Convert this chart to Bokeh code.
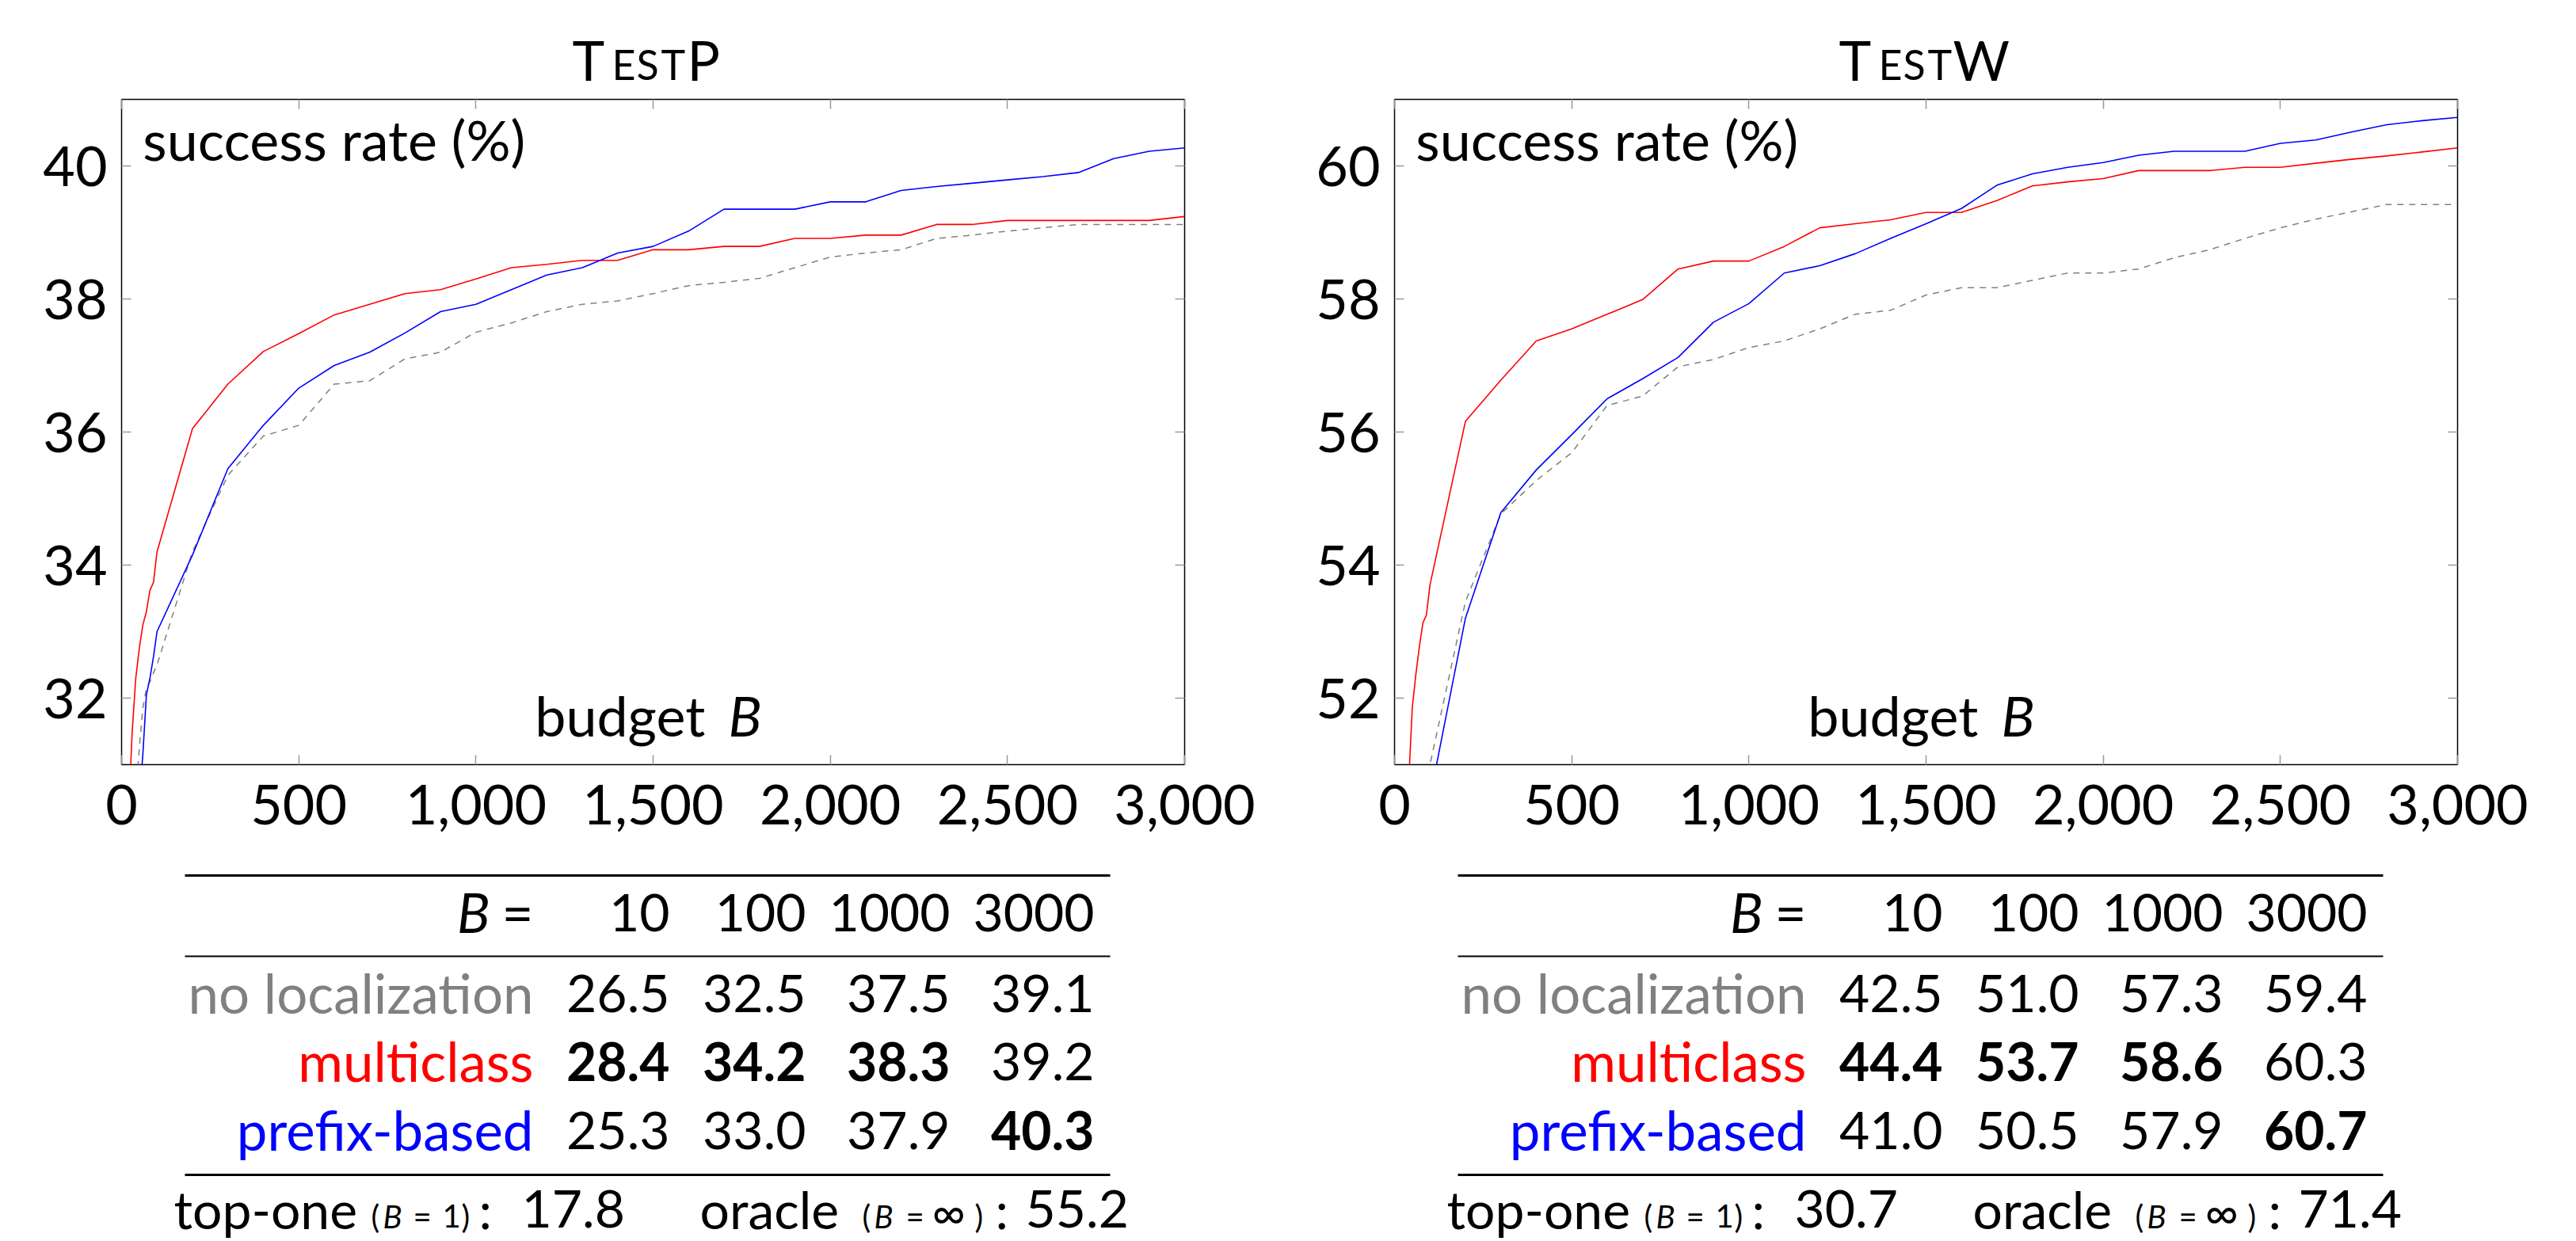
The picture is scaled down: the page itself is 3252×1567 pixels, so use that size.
import numpy as np
from bokeh.plotting import figure
from bokeh.models import Range1d, FixedTicker, NumeralTickFormatter, LinearAxis, Label
from bokeh.layouts import row, column
from bokeh.core.properties import value
from bokeh.embed import file_html
from bokeh.resources import INLINE

# ---------------- data ----------------
budget = [10, 20, 30, 40, 50, 60, 70, 80, 90, 100,
          200, 300, 400, 500, 600, 700, 800, 900, 1000,
          1100, 1200, 1300, 1400, 1500, 1600, 1700, 1800, 1900, 2000,
          2100, 2200, 2300, 2400, 2500, 2600, 2700, 2800, 2900, 3000]

x_ticks = [0, 500, 1000, 1500, 2000, 2500, 3000]

# TestP
p_noloc = [26.5, 28.5, 29.7, 30.5, 31.25, 31.85, 32.15, 32.25, 32.38, 32.5,
           34.2, 35.35, 35.94, 36.1, 36.72, 36.77, 37.1, 37.2, 37.5,
           37.64, 37.81, 37.92, 37.97, 38.08, 38.2, 38.25, 38.31, 38.47, 38.63,
           38.69, 38.74, 38.91, 38.96, 39.02, 39.07, 39.12, 39.12, 39.12, 39.12]
p_multi = [28.4, 30.3, 31.5, 32.3, 32.75, 33.1, 33.3, 33.62, 33.74, 34.2,
           36.05, 36.72, 37.21, 37.48, 37.76, 37.92, 38.08, 38.14, 38.3,
           38.47, 38.52, 38.58, 38.58, 38.74, 38.74, 38.79, 38.79, 38.91, 38.91,
           38.96, 38.96, 39.12, 39.12, 39.18, 39.18, 39.18, 39.18, 39.18, 39.24]
p_prefix = [25.3, 27.4, 28.7, 29.7, 30.5, 31.15, 32.05, 32.3, 32.62, 33.0,
            34.15, 35.45, 36.1, 36.66, 37.0, 37.2, 37.49, 37.81, 37.92,
            38.14, 38.36, 38.47, 38.69, 38.79, 39.02, 39.35, 39.35, 39.35, 39.46,
            39.46, 39.63, 39.69, 39.74, 39.79, 39.84, 39.9, 40.11, 40.22, 40.27]
p_yticks = [32, 34, 36, 38, 40]

# TestW
w_noloc = [42.5, 45.5, 47.3, 48.4, 49.2, 49.8, 50.2, 50.55, 50.8, 51.0,
           53.45, 54.77, 55.27, 55.69, 56.4, 56.54, 56.98, 57.09, 57.27,
           57.37, 57.55, 57.77, 57.83, 58.06, 58.17, 58.17, 58.28, 58.39, 58.39,
           58.45, 58.62, 58.74, 58.91, 59.07, 59.2, 59.31, 59.42, 59.42, 59.42]
w_multi = [44.4, 47.6, 49.7, 50.75, 51.85, 52.35, 52.77, 53.13, 53.25, 53.7,
           56.16, 56.78, 57.37, 57.55, 57.77, 57.99, 58.45, 58.57, 58.57,
           58.79, 59.07, 59.13, 59.19, 59.3, 59.3, 59.48, 59.7, 59.76, 59.81,
           59.93, 59.93, 59.93, 59.98, 59.98, 60.04, 60.1, 60.15, 60.21, 60.27]
w_prefix = [41.0, 44.0, 45.8, 47.0, 48.0, 48.7, 49.3, 49.8, 50.2, 50.5,
            53.2, 54.79, 55.43, 55.96, 56.5, 56.8, 57.12, 57.65, 57.93,
            58.39, 58.5, 58.68, 58.91, 59.13, 59.36, 59.71, 59.88, 59.98, 60.05,
            60.16, 60.22, 60.22, 60.22, 60.34, 60.39, 60.51, 60.62, 60.68, 60.73]
w_yticks = [52, 54, 56, 58, 60]

tbl_budgets = [10, 100, 1000, 3000]
methods = ["no localization", "multiclass", "prefix-based"]
method_colors = ["#808080", "#ff0000", "#0000ff"]

p_table = [[26.5, 32.5, 37.5, 39.1],
           [28.4, 34.2, 38.3, 39.2],
           [25.3, 33.0, 37.9, 40.3]]
w_table = [[42.5, 51.0, 57.3, 59.4],
           [44.4, 53.7, 58.6, 60.3],
           [41.0, 50.5, 57.9, 60.7]]

p_topone, p_oracle = 17.8, 55.2
w_topone, w_oracle = 30.7, 71.4

# ---------------- style ----------------
FONT = "Lato"
AX_FS = 70
LAB_FS = 69
NUM_FS = 66
BOT_FS = 66
SMALL_FS = 40
BASE_K = 0.35          # anchor-vs-baseline correction (fraction of font size)

TITLE_H = 120
PLOT_H = 975
TABLE_TOP = TITLE_H + PLOT_H
TABLE_H = 1567 - TABLE_TOP
FR_L, FR_R, FR_T, FR_B = 153, 1495, 125, 965   # plot frame in page px (left panel)


def px(n):
    return f"{n}px"


def make_panel(title_parts, series, y_lo, y_hi, y_ticks, table, top_one, oracle, sh):
    W = 1615 + sh
    xr0, xr1 = FR_L + sh, FR_R + sh
    base = dict(toolbar_location=None, output_backend="svg",
                min_border_left=FR_L + sh, min_border_right=W - (FR_R + sh))

    def X(x):
        return x + sh

    # ---- title (small caps built from pieces) ----
    t = figure(width=W, height=TITLE_H, x_range=Range1d(xr0, xr1), y_range=Range1d(0, TITLE_H),
               x_axis_type=None, y_axis_type=None, min_border_top=0, min_border_bottom=0,
               outline_line_color=None, **base)
    for txt, xp, fs in title_parts:
        t.text(x=[X(xp)], y=[TITLE_H - (99 - BASE_K * fs)], text=[txt],
               text_font=value(FONT), text_font_size=value(px(fs)), text_align="left",
               text_baseline="alphabetic", text_color="black")

    # ---- plot ----
    p = figure(width=W, height=PLOT_H, x_range=Range1d(0, 3000), y_range=Range1d(y_lo, y_hi),
               min_border_top=FR_T - TITLE_H, min_border_bottom=PLOT_H - (FR_B - TITLE_H), **base)
    p.grid.visible = False
    p.outline_line_color = "black"
    p.outline_line_width = 1.5

    noloc, multi, prefix = series
    p.line(budget, noloc, line_color="#808080", line_width=1.5, line_dash="8 7")
    p.line(budget, multi, line_color="#ff0000", line_width=1.6)
    p.line(budget, prefix, line_color="#0000ff", line_width=1.6)

    bottom_ax = p.below[0]
    left_ax = p.left[0]
    bottom_ax.ticker = FixedTicker(ticks=x_ticks)
    bottom_ax.formatter = NumeralTickFormatter(format="0,0")
    left_ax.ticker = FixedTicker(ticks=y_ticks)
    right_ax = LinearAxis(ticker=FixedTicker(ticks=y_ticks))
    top_ax = LinearAxis(ticker=FixedTicker(ticks=x_ticks))
    p.add_layout(right_ax, "right")
    p.add_layout(top_ax, "above")
    for ax in (bottom_ax, left_ax, right_ax, top_ax):
        ax.axis_line_color = None
        ax.major_tick_in = 12
        ax.major_tick_out = 0
        ax.major_tick_line_color = "#9a9a9a"
        ax.major_tick_line_width = 1.5
        ax.minor_tick_line_color = None
        ax.major_label_text_font = FONT
        ax.major_label_text_font_size = px(AX_FS)
        ax.major_label_text_color = "black"
    bottom_ax.major_label_standoff = 25
    left_ax.major_label_standoff = 18
    for ax in (right_ax, top_ax):
        ax.major_label_text_font_size = "0px"
        ax.major_label_text_alpha = 0
        ax.major_label_standoff = 0

    xr = 3000
    yr = y_hi - y_lo

    def frac(y_page, fs):
        return (FR_B - (y_page - BASE_K * fs)) / (FR_B - FR_T)

    lab = dict(text_font=FONT, text_font_size=px(AX_FS), text_baseline="alphabetic",
               text_color="black")
    p.add_layout(Label(x=0.02 * xr, y=y_lo + frac(200, AX_FS) * yr, text="success rate (%)",
                       text_align="left", **lab))
    p.add_layout(Label(x=0.549 * xr, y=y_lo + frac(927, AX_FS) * yr, text="budget",
                       text_align="right", **lab))
    p.add_layout(Label(x=0.5707 * xr, y=y_lo + frac(927, AX_FS) * yr, text="B",
                       text_font_style="italic", text_align="left", **lab))

    # ---- table ----
    tb = figure(width=W, height=TABLE_H, x_range=Range1d(xr0, xr1), y_range=Range1d(0, TABLE_H),
                x_axis_type=None, y_axis_type=None, min_border_top=0, min_border_bottom=0,
                outline_line_color=None, **base)

    def Y(y_page):
        return TABLE_TOP + TABLE_H - y_page

    def YT(y_page, fs):
        return Y(y_page - BASE_K * fs)

    rules_y = [Y(1105), Y(1207), Y(1483)]
    tb.segment(x0=[X(233)] * 3, y0=rules_y, x1=[X(1401)] * 3, y1=rules_y,
               line_color="black", line_width=[3.2, 2.0, 3.2])
    cols = [X(845), X(1017), X(1199), X(1381)]
    lab_x = X(673)
    lab_c = dict(text_font=value(FONT), text_font_size=value(px(LAB_FS)), text_baseline="alphabetic")
    num_c = dict(text_font=value(FONT), text_font_size=value(px(NUM_FS)), text_baseline="alphabetic")
    tb.text(x=[X(618)], y=[YT(1175, LAB_FS)], text=["B"], text_align="right",
            text_font_style="italic", text_color="black", **lab_c)
    tb.text(x=[lab_x], y=[YT(1175, LAB_FS)], text=["="], text_align="right", text_color="black",
            **lab_c)
    tb.text(x=cols, y=[YT(1175, NUM_FS)] * 4, text=[str(b) for b in tbl_budgets],
            text_align="right", text_color="black", **num_c)
    row_page = [1277, 1363, 1450]
    best = np.array(table).argmax(axis=0)
    for i, (m, c) in enumerate(zip(methods, method_colors)):
        tb.text(x=[lab_x], y=[YT(row_page[i], LAB_FS)], text=[m], text_align="right",
                text_color=c, **lab_c)
        for bold in (True, False):
            idx = [j for j in range(4) if (best[j] == i) == bold]
            if not idx:
                continue
            tb.text(x=[cols[j] for j in idx], y=[YT(row_page[i], NUM_FS)] * len(idx),
                    text=[f"{table[i][j]:.1f}" for j in idx], text_align="right",
                    text_font_style="bold" if bold else "normal", text_color="black", **num_c)

    bb = 1549
    small = dict(text_font=value(FONT), text_baseline="alphabetic", text_align="left",
                 text_color="black")
    big = dict(text_font=value(FONT), text_font_size=value(px(BOT_FS)), text_baseline="alphabetic",
               text_align="left", text_color="black")
    yb = YT(bb, BOT_FS)
    tb.text(x=[X(219)], y=[yb], text=["top-one"], **big)
    for txt, xp, st, fs in [("(", 468, "normal", SMALL_FS), ("B", 483, "italic", SMALL_FS),
                            ("=", 521, "normal", SMALL_FS), ("1", 558, "normal", SMALL_FS),
                            (")", 582, "normal", SMALL_FS)]:
        tb.text(x=[X(xp)], y=[YT(bb, fs)], text=[txt], text_font_style=st,
                text_font_size=value(px(fs)), **small)
    tb.text(x=[X(604)], y=[yb], text=[":"], **big)
    tb.text(x=[X(658)], y=[yb], text=[f"{top_one:.1f}"], **big)
    tb.text(x=[X(883)], y=[yb], text=["oracle"], **big)
    for txt, xp, st, fs in [("(", 1088, "normal", SMALL_FS), ("B", 1103, "italic", SMALL_FS),
                            ("=", 1143, "normal", SMALL_FS), ("∞", 1176, "normal", 58),
                            (")", 1230, "normal", SMALL_FS)]:
        tb.text(x=[X(xp)], y=[YT(bb, fs)], text=[txt], text_font_style=st,
                text_font_size=value(px(fs)), **small)
    tb.text(x=[X(1256)], y=[yb], text=[":"], **big)
    tb.text(x=[X(1294)], y=[yb], text=[f"{oracle:.1f}"], **big)

    return column(t, p, tb, spacing=0)


title_p = [("T", 722, 69), ("E", 772, 52), ("S", 803, 52), ("T", 834, 52), ("P", 867, 69)]
title_w = [("T", 714, 69), ("E", 764, 52), ("S", 795, 52), ("T", 826, 52), ("W", 858, 69)]

left = make_panel(title_p, (p_noloc, p_multi, p_prefix), 31, 41, p_yticks,
                  p_table, p_topone, p_oracle, 0)
right = make_panel(title_w, (w_noloc, w_multi, w_prefix), 51, 61, w_yticks,
                   w_table, w_topone, w_oracle, -8)
layout = row(left, right, spacing=0)

open("out.html", "w").write(file_html(layout, INLINE))
